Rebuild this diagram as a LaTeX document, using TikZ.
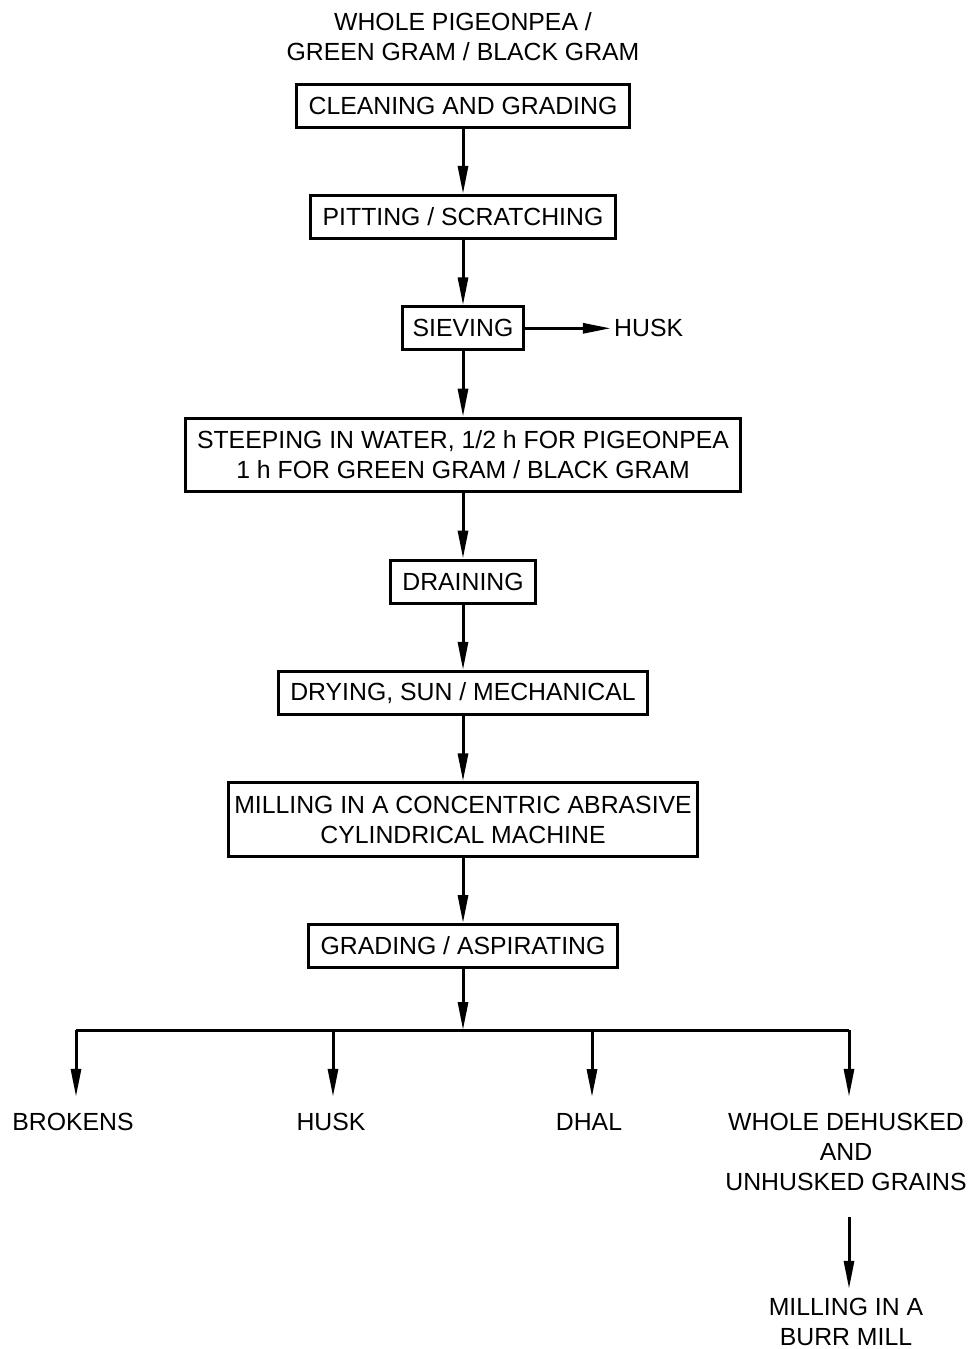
\documentclass[tikz,border=0pt]{standalone}
\usepackage{fontspec}
\setmainfont{Liberation Sans}
\usetikzlibrary{arrows.meta,positioning}
\tikzset{
  stepbox/.style={draw, line width=1.5pt, align=center, inner xsep=6pt,
                  inner ysep=3pt, minimum height=21.5pt},
  twobox/.style={stepbox, minimum height=36.7pt},
  plain/.style={align=center, inner sep=4.5pt},
  outlabel/.style={plain, inner sep=8pt},
  ar/.style={-{Triangle[length=14pt,width=5pt]}, line width=1.5pt},
}

\begin{document}
\begin{tikzpicture}[x=0.5pt, y=-0.5pt, node distance=32.7pt,
    every node/.style={font=\fontsize{12.4}{15}\selectfont}]
  \useasboundingbox (0,0) rectangle (972,1349);
  \node[plain, inner sep=0pt] (raw) at (463,37) {WHOLE PIGEONPEA /\\GREEN GRAM / BLACK GRAM};
  \node[stepbox, below=10.5pt of raw] (clean) {CLEANING AND GRADING};
  \node[stepbox, below=of clean] (pit) {PITTING / SCRATCHING};
  \node[stepbox, inner xsep=5pt, below=of pit] (sieve) {SIEVING};
  \node[plain, inner sep=1.5pt, right=43pt of sieve] (husk) {HUSK};
  \node[twobox, below=of sieve] (steep) {STEEPING IN WATER, 1/2 h FOR PIGEONPEA\\1 h FOR GREEN GRAM / BLACK GRAM};
  \node[stepbox, below=of steep] (drain) {DRAINING};
  \node[stepbox, below=of drain] (dry) {DRYING, SUN / MECHANICAL};
  \node[twobox, inner xsep=3pt, below=of dry] (mill) {MILLING IN A CONCENTRIC ABRASIVE\\CYLINDRICAL MACHINE};
  \node[stepbox, below=of mill] (grade) {GRADING / ASPIRATING};

  % products
  \coordinate (split) at (463,1030);
  \coordinate (b1) at (76,1030);
  \coordinate (b2) at (333,1030);
  \coordinate (b3) at (592,1030);
  \coordinate (b4) at (849,1030);
  \node[outlabel] (brokens) at (73,1122) {BROKENS};
  \node[outlabel] (husk2) at (331,1122) {HUSK};
  \node[outlabel] (dhal) at (589,1122) {DHAL};
  \node[outlabel] (whole) at (846,1152) {WHOLE DEHUSKED\\AND\\UNHUSKED GRAINS};
  \node[plain] (burr) at (846,1322) {MILLING IN A\\BURR MILL};

  \draw[ar] (clean) -- (pit);
  \draw[ar] (pit) -- (sieve);
  \draw[ar] (sieve) -- (husk);
  \draw[ar] (sieve) -- (steep);
  \draw[ar] (steep) -- (drain);
  \draw[ar] (drain) -- (dry);
  \draw[ar] (dry) -- (mill);
  \draw[ar] (mill) -- (grade);
  \draw[ar] (grade) -- (split);
  \draw[line width=1.5pt] (b1) -- (b4);
  \foreach \b/\n in {b1/brokens, b2/husk2, b3/dhal, b4/whole}
    \draw[ar] (\b) -- (\n.north -| \b);
  \draw[ar, shorten <=5pt] (whole.south -| b4) -- (burr.north -| b4);
\end{tikzpicture}
\end{document}
